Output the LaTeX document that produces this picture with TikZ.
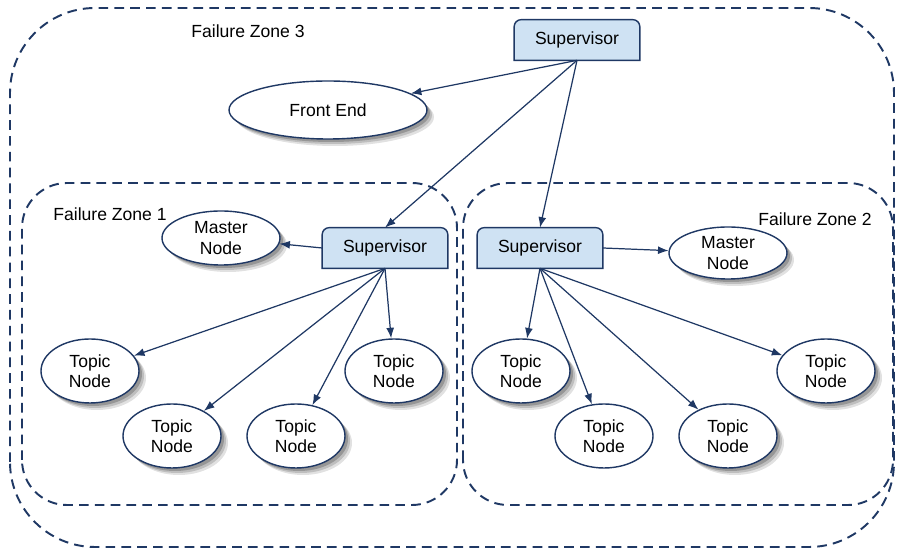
\documentclass[tikz,border=0pt]{standalone}
\usepackage{fontspec}
\setmainfont{Liberation Sans}
\usetikzlibrary{arrows.meta,positioning,shapes.geometric,backgrounds}
\definecolor{zoneBlue}{RGB}{31,56,100}
\definecolor{supFill}{RGB}{207,226,243}
\definecolor{shadeA}{RGB}{225,225,225}
\definecolor{shadeB}{RGB}{190,190,190}
\definecolor{shadeC}{RGB}{150,150,150}

\tikzset{
  zonebox/.style={draw=zoneBlue, line width=1.1pt, dash pattern=on 5.5pt off 3.5pt},
  supbox/.style={minimum width=2.5cm, minimum height=0.8cm, inner sep=0pt},
  oval/.style={ellipse, draw=zoneBlue, line width=0.8pt, fill=white, inner sep=0pt, align=center},
  topic/.style={oval, minimum width=1.96cm, minimum height=1.28cm},
  link/.style={-{Latex[length=6pt,width=4.5pt]}, draw=zoneBlue, line width=0.7pt},
}

\begin{document}
\begin{tikzpicture}[font=\fontsize{10}{11.5}\selectfont]
    \useasboundingbox (0,0) rectangle (17.94,11);

    % Failure zones
    \draw[zonebox, rounded corners=1.7cm] (0.2,0.06) rectangle (17.88,10.84);
    \draw[zonebox, rounded corners=0.9cm] (0.44,0.9) rectangle (9.14,7.34);
    \draw[zonebox, rounded corners=0.9cm] (9.26,0.9) rectangle (17.86,7.34);
    \node (z3) at (4.96,10.38) {Failure Zone 3};
    \node (z1) at (2.2,6.72) {Failure Zone 1};
    \node (z2) at (16.3,6.62) {Failure Zone 2};

    % Supervisors
    \node[supbox] (sup3) at (11.54,10.2) {Supervisor};
    \node[supbox] (sup1) at (7.7,6.04) {Supervisor};
    \node[supbox] (sup2) at (10.8,6.04) {Supervisor};

    % Front end and masters
    \node[oval, minimum width=3.96cm, minimum height=1.16cm] (front) at (6.56,8.8) {Front End};
    \node[oval, minimum width=2.36cm, minimum height=1.08cm] (master1) at (4.42,6.24) {Master\\Node};
    \node[oval, minimum width=2.36cm, minimum height=1.04cm] (master2) at (14.56,5.94) {Master\\Node};

    % Topic nodes
    \foreach \t/\x/\y in {t1/1.8/3.58, t2/3.44/2.28, t3/5.92/2.28, t4/7.88/3.58,
                          t5/10.42/3.58, t6/12.08/2.28, t7/14.56/2.28, t8/16.52/3.58}
      \node[topic] (\t) at (\x,\y) {Topic\\Node};

    % Boxes and soft shadows behind the nodes
    \begin{scope}[on background layer]
      \foreach \s in {sup3,sup1,sup2}
        \filldraw[draw=zoneBlue, fill=supFill, line width=0.8pt]
          (\s.south west) [rounded corners=4pt] -- (\s.north west) -- (\s.north east)
          [sharp corners] -- (\s.south east) -- cycle;
      \foreach \d/\sh in {0.14/shadeA, 0.1/shadeB, 0.06/shadeC}
        \foreach \o/\rx/\ry in {front/1.98/0.58, master1/1.18/0.54, master2/1.18/0.52,
                                t1/0.98/0.64, t2/0.98/0.64, t3/0.98/0.64, t4/0.98/0.64,
                                t5/0.98/0.64, t7/0.98/0.64, t8/0.98/0.64}
          \fill[\sh] ([xshift=\d cm, yshift=-\d cm]\o.center) ellipse ({\rx} and {\ry});
    \end{scope}

    % Links
    \draw[link] (sup3.south) -- (front);
    \draw[link] (sup3.south) -- (sup1.north);
    \draw[link] (sup3.south) -- (sup2.north);
    \draw[link] (sup1.west) -- (master1);
    \draw[link] (sup2.east) -- (master2);
    \foreach \t in {t1,t2,t3,t4}
      \draw[link] (sup1.south) -- (\t);
    \foreach \t in {t5,t6,t7,t8}
      \draw[link] (sup2.south) -- (\t);
\end{tikzpicture}
\end{document}
